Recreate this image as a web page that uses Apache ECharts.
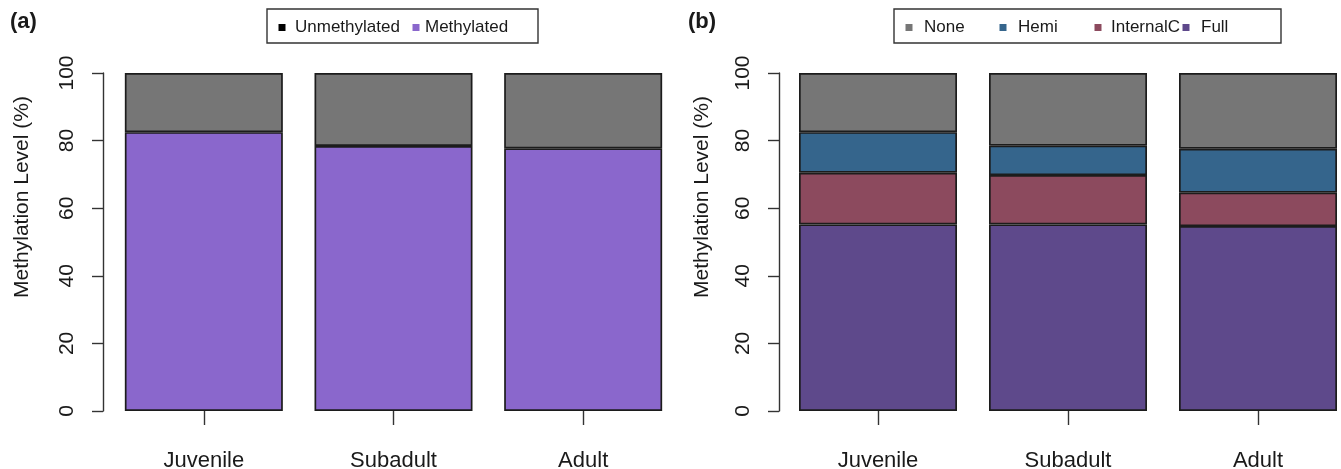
<!DOCTYPE html>
<html>
<head>
<meta charset="utf-8">
<title>Methylation Level</title>
<script src="https://cdn.jsdelivr.net/npm/echarts@6/dist/echarts.min.js"></script>
<style>
  html, body { margin: 0; padding: 0; background: #ffffff; overflow: hidden; }
  #chart { width: 1341px; height: 469px; }
</style>
</head>
<body>
<div id="chart"></div>
<script>
// Developmental stages on the x axis
const stages = ['Juvenile', 'Subadult', 'Adult'];

// Panel (a): overall methylation level (%)
const methylated = [82.5, 78.4, 77.7];
const unmethylated = [17.5, 21.6, 22.3];

// Panel (b): methylation level by type (%)
const full = [55.2, 55.2, 54.7];
const internalC = [15.3, 14.6, 9.9];
const hemi = [12.0, 8.7, 13.0];
const none = [17.5, 21.5, 22.4];

// Y axis tick range
const yMin = 0;
const yMax = 100;
const yStep = 20;

const SANS = "'Liberation Sans', Arial, Helvetica, sans-serif";
const INK = '#1a1a1a';
const EDGE = '#1c1c1c';

const colors = {
  Unmethylated: '#767676',
  Methylated: '#8a67cc',
  None: '#767676',
  Hemi: '#35658c',
  InternalC: '#8c4a5e',
  Full: '#5e498b'
};

function yAxisFor(gridIndex, offset) {
  return {
    type: 'value',
    gridIndex: gridIndex,
    min: yMin,
    max: yMax,
    interval: yStep,
    offset: offset,
    splitLine: { show: false },
    axisLine: { show: true, lineStyle: { color: '#333', width: 1.4 } },
    axisTick: { show: true, length: 11, lineStyle: { color: '#333', width: 1.4 } },
    axisLabel: {
      rotate: 90,
      margin: 25,
      fontSize: 21,
      fontFamily: SANS,
      color: INK
    }
  };
}

function xAxisFor(gridIndex) {
  return {
    type: 'category',
    gridIndex: gridIndex,
    data: stages,
    offset: 2,
    axisLine: { show: false },
    axisTick: { show: true, alignWithLabel: true, length: 14, lineStyle: { color: '#333', width: 1.4 } },
    axisLabel: { margin: 37, fontSize: 22, fontFamily: SANS, color: INK }
  };
}

function barSeries(name, data, idx, stack) {
  return {
    name: name,
    type: 'bar',
    stack: stack,
    xAxisIndex: idx,
    yAxisIndex: idx,
    data: data,
    barWidth: 158,
    itemStyle: { color: colors[name], borderColor: EDGE, borderWidth: 1.7 },
    emphasis: { disabled: true }
  };
}

function legendItem(name, iconColor, left, textGap) {
  return {
    left: left,
    top: 19,
    padding: 0,
    itemGap: 0,
    itemWidth: 7,
    itemHeight: 7,
    icon: 'rect',
    data: [{ name: name, itemStyle: { color: iconColor, borderWidth: 0 } }],
    textStyle: { fontSize: 17, fontFamily: SANS, color: INK, padding: [0, 0, 0, textGap] }
  };
}

const chart = echarts.init(document.getElementById('chart'), null, { renderer: 'canvas' });

chart.setOption({
  animation: false,
  backgroundColor: '#ffffff',
  // fixed plot boxes: 190 px per stage; the right panel's last band runs past the edge
  grid: [
    { left: 109, top: 73, width: 569, height: 338, outerBoundsMode: 'none' },
    { left: 783, top: 73, width: 570, height: 338, outerBoundsMode: 'none' }
  ],
  xAxis: [xAxisFor(0), xAxisFor(1)],
  yAxis: [yAxisFor(0, 6), yAxisFor(1, 4)],
  legend: [
    legendItem('Unmethylated', '#000000', 278.5, 4.5),
    legendItem('Methylated', colors.Methylated, 412.5, 0.5),
    legendItem('None', colors.None, 905.5, 6.5),
    legendItem('Hemi', colors.Hemi, 999.5, 6.5),
    legendItem('InternalC', colors.InternalC, 1094.5, 4.5),
    legendItem('Full', colors.Full, 1182.5, 6.5)
  ],
  graphic: [
    { type: 'rect', shape: { x: 267, y: 9, width: 271, height: 34 },
      style: { fill: 'none', stroke: '#333', lineWidth: 1.4 }, silent: true },
    { type: 'rect', shape: { x: 894, y: 9, width: 387, height: 34 },
      style: { fill: 'none', stroke: '#333', lineWidth: 1.4 }, silent: true },
    { type: 'text', x: 10, y: 22,
      style: { text: '(a)', font: "bold 22px " + SANS, fill: INK, align: 'left', verticalAlign: 'middle' } },
    { type: 'text', x: 688, y: 22,
      style: { text: '(b)', font: "bold 22px " + SANS, fill: INK, align: 'left', verticalAlign: 'middle' } },
    { type: 'text', x: 22, y: 197, rotation: Math.PI / 2,
      style: { text: 'Methylation Level (%)', font: "21px " + SANS, fill: INK, align: 'center', verticalAlign: 'middle' } },
    { type: 'text', x: 702, y: 197, rotation: Math.PI / 2,
      style: { text: 'Methylation Level (%)', font: "21px " + SANS, fill: INK, align: 'center', verticalAlign: 'middle' } }
  ],
  series: [
    barSeries('Methylated', methylated, 0, 'a'),
    barSeries('Unmethylated', unmethylated, 0, 'a'),
    barSeries('Full', full, 1, 'b'),
    barSeries('InternalC', internalC, 1, 'b'),
    barSeries('Hemi', hemi, 1, 'b'),
    barSeries('None', none, 1, 'b')
  ]
});
</script>
</body>
</html>
